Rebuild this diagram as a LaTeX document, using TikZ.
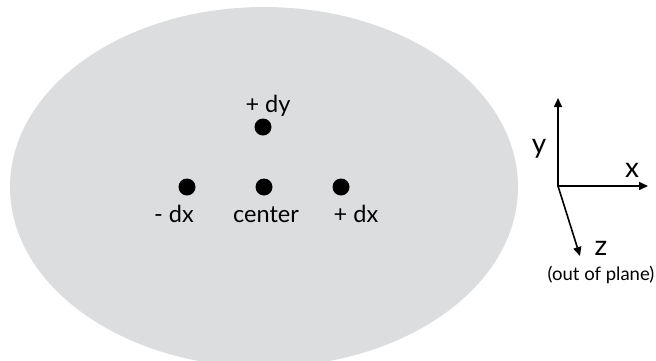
\documentclass[tikz,border=0pt]{standalone}
\usepackage{fontspec}
\setmainfont{Lato}
\usetikzlibrary{arrows.meta}
\definecolor{plate}{RGB}{220,221,223}
\tikzset{
  dot/.style={circle, fill=black, inner sep=0pt, minimum size=17pt},
  lbl/.style={inner sep=0pt, anchor=base, font=\fontsize{23.5}{28}\selectfont},
  axlbl/.style={inner sep=0pt, anchor=base, font=\fontsize{28}{33}\selectfont},
  smalllbl/.style={inner sep=0pt, anchor=base, font=\fontsize{18.5}{22}\selectfont},
  axis/.style={line width=1.6pt, -{Triangle[length=9pt,width=8pt]}}
}
\begin{document}
\begin{tikzpicture}[x=1pt,y=-1pt]
\useasboundingbox (0,0) rectangle (656,360);
\fill[plate] (264,187) ellipse [x radius=254, y radius=180];
% dots
\node[dot] (dy) at (263,127) {};
\node[dot] (mdx) at (187,187) {};
\node[dot] (cen) at (264,187) {};
\node[dot] (pdx) at (341,187) {};
% labels
\node[lbl] (ldy) at (268,112) {+ dy};
\node[lbl] (lmdx) at (174,222) {- dx};
\node[lbl] (lcen) at (266,222) {center};
\node[lbl] (lpdx) at (356,222) {+ dx};
% axes
\coordinate (o) at (558,186);
\coordinate (ytip) at (558,98);
\coordinate (xtip) at (648,186);
\coordinate (ztip) at (580,256);
\draw[axis] (o) -- (ytip);
\draw[axis] (o) -- (xtip);
\draw[axis] (o) -- (ztip);
\node[axlbl] (ly) at (539,153) {y};
\node[axlbl] (lx) at (632,177) {x};
\node[axlbl] (lz) at (601,255) {z};
\node[smalllbl] (lout) at (601,280) {(out of plane)};
\end{tikzpicture}
\end{document}
